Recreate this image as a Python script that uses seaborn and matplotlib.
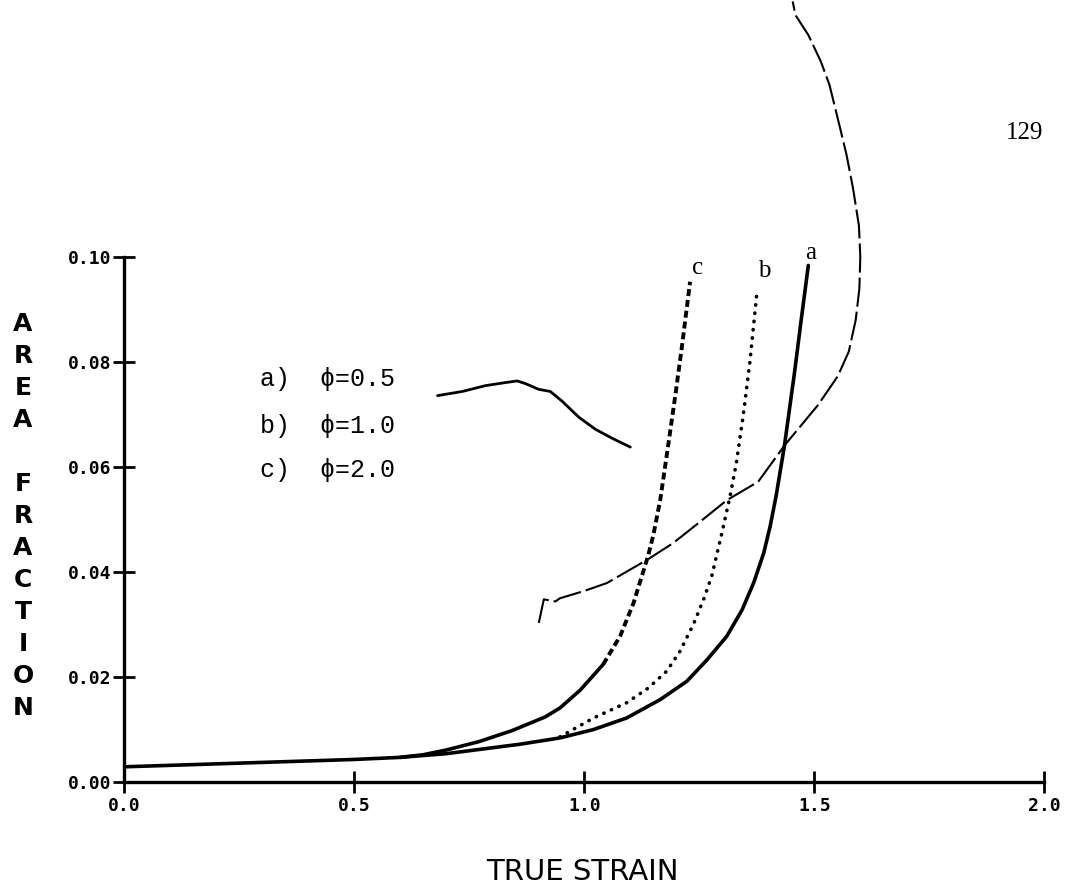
import numpy as np
import pandas as pd
import matplotlib
matplotlib.use("Agg")
import matplotlib.pyplot as plt
import seaborn as sns

# ---------------- data ----------------
# curve a) phi = 0.5 (solid)
a_strain = [0.0, 0.25, 0.50, 0.60, 0.70, 0.771, 0.86, 0.947, 1.020, 1.092, 1.165,
            1.223, 1.267, 1.310, 1.343, 1.368, 1.390, 1.404, 1.417, 1.435, 1.457,
            1.470, 1.487]
a_frac = [0.0029, 0.0036, 0.0043, 0.0047, 0.0054, 0.0062, 0.0072, 0.0084, 0.0100,
          0.0122, 0.0157, 0.0192, 0.0233, 0.0278, 0.0328, 0.0379, 0.0436, 0.0487,
          0.0545, 0.0640, 0.0780, 0.0870, 0.0984]

# curve b) phi = 1.0 (dotted)
b_strain = [0.947, 1.020, 1.092, 1.139, 1.179, 1.208, 1.237, 1.259, 1.277, 1.299,
            1.317, 1.330, 1.345, 1.360, 1.376]
b_frac = [0.0086, 0.0122, 0.0151, 0.0179, 0.0211, 0.0249, 0.0300, 0.0347, 0.0392,
          0.0474, 0.0545, 0.0605, 0.0695, 0.0800, 0.0939]

# curve c) phi = 2.0 (solid lower part, dashed upper part)
c_strain = [0.60, 0.65, 0.70, 0.771, 0.843, 0.915, 0.947, 0.991, 1.041, 1.078, 1.107,
            1.125, 1.139, 1.150, 1.165, 1.179, 1.197, 1.212, 1.230]
c_frac = [0.0047, 0.0052, 0.0061, 0.0077, 0.0098, 0.0124, 0.0141, 0.0175, 0.0224,
          0.0278, 0.0341, 0.0392, 0.0432, 0.0470, 0.0537, 0.0621, 0.0731, 0.0828,
          0.0953]
c_split = 8  # index where the curve turns dashed

# faint traces showing through from the facing page
ghost_dash_strain = [0.901, 0.912, 0.937, 0.947, 1.000, 1.049, 1.136, 1.193, 1.252,
                     1.310, 1.378, 1.436, 1.508, 1.551, 1.575, 1.590, 1.598, 1.600,
                     1.597, 1.584, 1.570, 1.556, 1.533, 1.514, 1.487, 1.459, 1.453]
ghost_dash_frac = [0.0303, 0.0348, 0.0344, 0.0350, 0.0364, 0.0379, 0.0423, 0.0455,
                   0.0496, 0.0537, 0.0572, 0.0642, 0.0718, 0.0773, 0.0820, 0.0880,
                   0.0940, 0.1000, 0.1060, 0.1132, 0.1195, 0.1246, 0.1328, 0.1373,
                   0.1423, 0.1461, 0.1487]
ghost_solid_strain = [0.681, 0.735, 0.785, 0.829, 0.854, 0.872, 0.901, 0.926, 0.951,
                      0.988, 1.024, 1.060, 1.100]
ghost_solid_frac = [0.0736, 0.0744, 0.0755, 0.0761, 0.0764, 0.0759, 0.0748, 0.0744,
                    0.0726, 0.0695, 0.0672, 0.0655, 0.0638]

legend_lines = ["a)  \u03d5=0.5", "b)  \u03d5=1.0", "c)  \u03d5=2.0"]
curve_tags = ["a", "b", "c"]
x_ticks = [0.0, 0.5, 1.0, 1.5, 2.0]
x_ticklabels = ["0.0", "0.5", "1.0", "1.5", "2.0"]
y_ticks = [0.00, 0.02, 0.04, 0.06, 0.08, 0.10]
y_ticklabels = ["0.00", "0.02", "0.04", "0.06", "0.08", "0.10"]
x_title = "TRUE STRAIN"
y_title = "AREA FRACTION"
page_number = "129"

# ---------------- figure ----------------
sns.set_style("white")
plt.rcParams["font.family"] = ["DejaVu Sans"]
plt.rcParams["text.color"] = "black"
plt.rcParams["xtick.color"] = "black"
plt.rcParams["ytick.color"] = "black"

fig = plt.figure(figsize=(10.68, 8.91), dpi=100)
ax = fig.add_axes([0.1164, 0.1223, 0.8614, 0.5892])

def line(xs, ys, **kw):
    df = pd.DataFrame({"x": xs, "y": ys})
    sns.lineplot(data=df, x="x", y="y", sort=False, estimator=None, ax=ax,
                 color="black", legend=False, **kw)
    ln = ax.lines[-1]
    ln.set_solid_joinstyle("round")
    ln.set_solid_capstyle("round")
    return ln

# ghost traces
line(ghost_solid_strain, ghost_solid_frac, linewidth=2.0)
g = line(ghost_dash_strain, ghost_dash_frac, linewidth=1.5)
g.set_linestyle((0, (14, 2.4)))
g.set_clip_on(False)

# curve a
line(a_strain, a_frac, linewidth=2.6)
# curve b
lb = line(b_strain, b_frac, linewidth=2.6)
lb.set_linestyle((0, (0.1, 2.2)))
lb.set_dash_capstyle("round")
# curve c
line(c_strain[:c_split + 1], c_frac[:c_split + 1], linewidth=2.6)
lc = line(c_strain[c_split:], c_frac[c_split:], linewidth=2.8)
lc.set_linestyle((0, (1.8, 1.0)))

# curve tags at the top of each curve
tag_pos = {"a": (1.493, 0.1008), "b": (1.391, 0.0973), "c": (1.246, 0.0980)}
for t in curve_tags:
    ax.text(*tag_pos[t], t, ha="center", va="center", fontsize=18,
            family=["Liberation Serif"], clip_on=False)

# legend-like annotation
for txt, yy in zip(legend_lines, [0.0768, 0.0678, 0.0594]):
    ax.text(0.295, yy, txt, ha="left", va="center", fontsize=18,
            family=["Liberation Mono", "DejaVu Sans Mono"])

# axes
ax.set_xlim(0, 2.0)
ax.set_ylim(0, 0.10)
ax.set_xticks(x_ticks)
ax.set_xticklabels(x_ticklabels)
ax.set_yticks(y_ticks)
ax.set_yticklabels(y_ticklabels)
for lab in ax.get_xticklabels() + ax.get_yticklabels():
    lab.set_fontfamily(["DejaVu Sans Mono"])
    lab.set_fontweight("bold")
    lab.set_fontsize(13)
    lab.set_color("black")
ax.tick_params(axis="both", which="major", direction="inout", length=16, width=2.0,
               color="black", bottom=True, left=True, top=False, right=False)
ax.tick_params(axis="x", pad=3)
ax.tick_params(axis="y", pad=1)
ax.set_xlabel("")
ax.set_ylabel("")
sns.despine(ax=ax)
for s in ["left", "bottom"]:
    ax.spines[s].set_linewidth(2.4)
    ax.spines[s].set_color("black")
    ax.spines[s].set_zorder(5)

fig.text(0.545, 1 - 872 / 891, x_title, ha="center", va="center", fontsize=21)
stacked = "\n".join(" " if ch == " " else ch for ch in y_title)
fig.text(23 / 1068, 1 - 516 / 891, stacked, ha="center", va="center",
         fontsize=18, fontweight="bold", linespacing=1.42)
fig.text(1025 / 1068, 1 - 133 / 891, page_number, ha="center", va="center",
         fontsize=18, family=["Liberation Serif"])

fig.savefig("out.png", dpi=100, facecolor="white")
